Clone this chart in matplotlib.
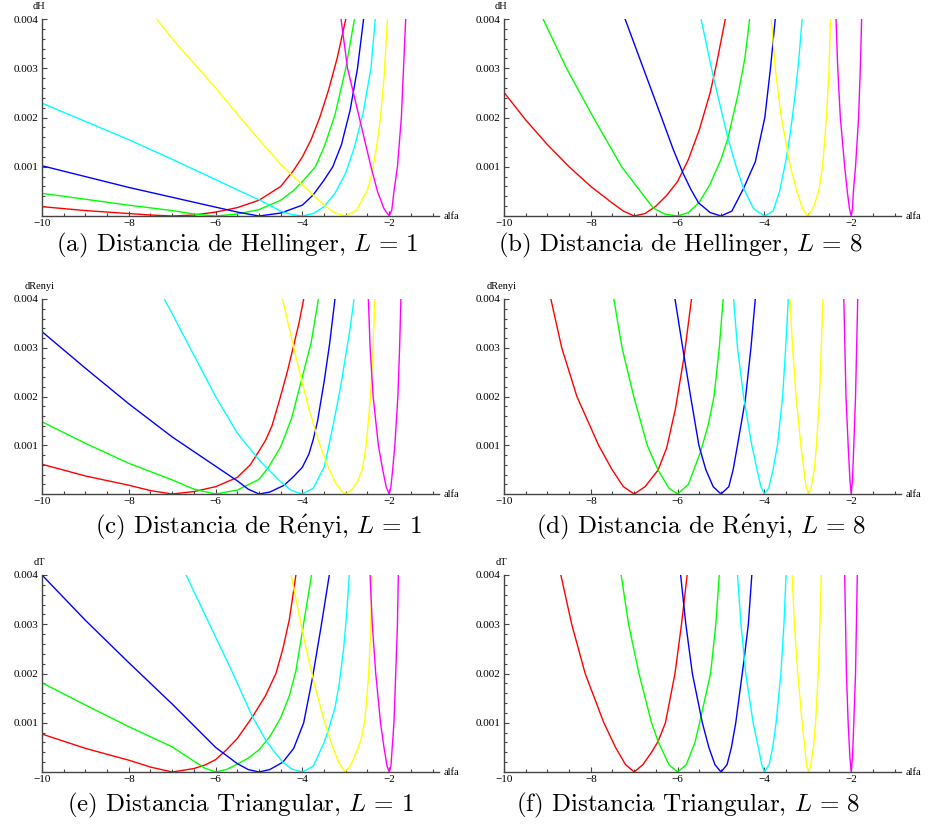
import numpy as np
import matplotlib
matplotlib.use("Agg")
import matplotlib.pyplot as plt
from matplotlib.ticker import FixedLocator, FuncFormatter

# ---------------- data (x = alfa, y in units of 0.001) ----------------
alphas = [-7, -6, -5, -4, -3, -2]
colors = ["#ff0000", "#00ff00", "#0000ff", "#00ffff", "#ffff00", "#ff00ff"]
y_unit = 1e-3

# (a) Hellinger, L = 1
hel1_red = [(-10, 0.19), (-9, 0.11), (-8, 0.05), (-7.5, 0.02), (-7, 0.0), (-6.5, 0.02), (-6, 0.08),
            (-5.5, 0.17), (-5, 0.32), (-4.5, 0.60), (-4.2, 0.93), (-4.0, 1.2), (-3.8, 1.55), (-3.6, 2.0),
            (-3.4, 2.55), (-3.2, 3.2), (-3.0, 4.0)]
hel1_green = [(-10, 0.46), (-9, 0.34), (-8, 0.22), (-7, 0.11), (-6.5, 0.04), (-6, 0.0), (-5.5, 0.04),
              (-5, 0.13), (-4.5, 0.32), (-4.2, 0.52), (-4.0, 0.70), (-3.7, 1.0), (-3.5, 1.4), (-3.25, 2.05),
              (-3.0, 3.0), (-2.8, 4.0)]
hel1_blue = [(-10, 1.02), (-9, 0.80), (-8, 0.58), (-7, 0.38), (-6, 0.18), (-5.5, 0.08), (-5, 0.0),
             (-4.5, 0.06), (-4, 0.22), (-3.75, 0.43), (-3.5, 0.73), (-3.3, 1.0), (-3.1, 1.45), (-2.9, 2.15),
             (-2.73, 3.0), (-2.59, 4.0)]
hel1_cyan = [(-10, 2.29), (-9, 1.92), (-8, 1.55), (-7, 1.15), (-6, 0.74), (-5.5, 0.53), (-5, 0.33),
             (-4.5, 0.10), (-4.25, 0.03), (-4, 0.0), (-3.75, 0.05), (-3.5, 0.19), (-3.25, 0.46), (-3.0, 0.88),
             (-2.8, 1.4), (-2.6, 2.1), (-2.42, 3.0), (-2.32, 4.0)]
hel1_yellow = [(-7.36, 4.0), (-7, 3.6), (-6.5, 3.1), (-6, 2.6), (-5.5, 2.07), (-5, 1.55), (-4.5, 1.05),
               (-4, 0.63), (-3.5, 0.22), (-3.25, 0.06), (-3, 0.0), (-2.75, 0.12), (-2.5, 0.53), (-2.4, 0.85),
               (-2.3, 1.35), (-2.2, 2.0), (-2.12, 2.8), (-2.04, 4.0)]
hel1_magenta = [(-3.11, 4.0), (-2.96, 3.0), (-2.69, 2.0), (-2.42, 1.0), (-2.27, 0.5), (-2.12, 0.15), (-2, 0.0),
                (-1.94, 0.12), (-1.89, 0.5), (-1.81, 1.0), (-1.72, 2.0), (-1.67, 3.0), (-1.62, 4.0)]

# (b) Hellinger, L = 8
hel8_red = [(-10, 2.51), (-9.5, 1.95), (-9, 1.45), (-8.5, 1.0), (-8, 0.6), (-7.5, 0.26), (-7.25, 0.1),
            (-7, 0.0), (-6.75, 0.05), (-6.5, 0.2), (-6.25, 0.42), (-6, 0.7), (-5.75, 1.15), (-5.5, 1.75),
            (-5.25, 2.5), (-5.1, 3.1), (-4.9, 4.0)]
hel8_green = [(-9.1, 4.0), (-8.56, 3.0), (-7.94, 2.0), (-7.29, 1.0), (-6.9, 0.55), (-6.56, 0.16), (-6.3, 0.04),
              (-6, 0.0), (-5.75, 0.07), (-5.5, 0.28), (-5.25, 0.65), (-5.0, 1.15), (-4.84, 1.58), (-4.6, 2.5),
              (-4.45, 3.2), (-4.34, 4.0)]
hel8_blue = [(-7.21, 4.0), (-6.79, 3.0), (-6.37, 2.0), (-6.1, 1.35), (-5.88, 0.88), (-5.7, 0.55), (-5.52, 0.27),
             (-5.25, 0.07), (-5, 0.0), (-4.75, 0.1), (-4.48, 0.56), (-4.21, 1.1), (-3.99, 2.0), (-3.86, 3.0),
             (-3.75, 4.0)]
hel8_cyan = [(-5.46, 4.0), (-5.17, 2.8), (-4.84, 1.58), (-4.65, 1.0), (-4.48, 0.56), (-4.25, 0.15), (-4, 0.0),
             (-3.8, 0.1), (-3.65, 0.5), (-3.5, 1.15), (-3.4, 1.7), (-3.3, 2.4), (-3.21, 3.15), (-3.13, 4.0)]
hel8_yellow = [(-3.84, 4.0), (-3.75, 3.0), (-3.61, 2.0), (-3.4, 1.0), (-3.25, 0.5), (-3.12, 0.15), (-3, 0.0),
               (-2.88, 0.15), (-2.75, 0.5), (-2.66, 1.0), (-2.57, 2.0), (-2.51, 3.0), (-2.48, 4.0)]
hel8_magenta = [(-2.35, 4.0), (-2.31, 3.0), (-2.25, 2.0), (-2.15, 1.0), (-2.09, 0.5), (-2.04, 0.15), (-2, 0.0),
                (-1.97, 0.15), (-1.95, 0.5), (-1.9, 1.0), (-1.83, 2.0), (-1.79, 3.0), (-1.76, 4.0)]

# (c) Renyi, L = 1
ren1_red = [(-10, 0.61), (-9, 0.37), (-8, 0.18), (-7.5, 0.07), (-7, 0.0), (-6.5, 0.05), (-6, 0.15),
            (-5.5, 0.34), (-5.2, 0.6), (-5.0, 0.88), (-4.85, 1.1), (-4.7, 1.4), (-4.52, 1.95), (-4.35, 2.5),
            (-4.2, 3.05), (-4.08, 3.5), (-3.97, 4.0)]
ren1_green = [(-10, 1.48), (-9, 1.04), (-8, 0.63), (-7, 0.29), (-6.5, 0.1), (-6, 0.0), (-5.5, 0.08),
              (-5, 0.3), (-4.78, 0.55), (-4.5, 0.97), (-4.25, 1.55), (-4.02, 2.34), (-3.8, 3.1), (-3.63, 4.0)]
ren1_blue = [(-10, 3.33), (-9, 2.58), (-8, 1.85), (-7, 1.17), (-6, 0.57), (-5.5, 0.27), (-5.25, 0.1),
             (-5, 0.0), (-4.75, 0.04), (-4.42, 0.18), (-4.2, 0.36), (-4.0, 0.55), (-3.85, 0.82), (-3.75, 1.12),
             (-3.65, 1.5), (-3.5, 2.3), (-3.37, 3.1), (-3.25, 4.0)]
ren1_cyan = [(-7.18, 4.0), (-6.59, 3.0), (-6.0, 2.0), (-5.5, 1.25), (-5.0, 0.7), (-4.78, 0.5), (-4.5, 0.25),
             (-4.25, 0.07), (-4, 0.0), (-3.75, 0.12), (-3.5, 0.55), (-3.4, 0.95), (-3.25, 1.6), (-3.12, 2.2),
             (-3.0, 2.85), (-2.9, 3.4), (-2.81, 4.0)]
ren1_yellow = [(-4.46, 4.0), (-4.25, 3.2), (-4.05, 2.45), (-3.85, 1.75), (-3.65, 1.15), (-3.45, 0.65),
               (-3.25, 0.25), (-3.1, 0.06), (-3.0, 0.0), (-2.85, 0.1), (-2.72, 0.28), (-2.62, 0.5), (-2.53, 1.0),
               (-2.43, 2.0), (-2.37, 3.0), (-2.33, 4.0)]
ren1_magenta = [(-2.48, 4.0), (-2.44, 3.0), (-2.37, 2.0), (-2.25, 1.0), (-2.15, 0.5), (-2.07, 0.15), (-2, 0.0),
                (-1.96, 0.15), (-1.92, 0.5), (-1.87, 1.0), (-1.8, 2.0), (-1.76, 3.0), (-1.73, 4.0)]

# (d) Renyi, L = 8
ren8_red = [(-8.92, 4.0), (-8.67, 3.0), (-8.32, 2.0), (-7.82, 1.0), (-7.51, 0.5), (-7.25, 0.15), (-7, 0.0),
            (-6.75, 0.15), (-6.45, 0.49), (-6.25, 0.95), (-6.05, 1.75), (-5.85, 2.82), (-5.68, 4.0)]
ren8_green = [(-7.47, 4.0), (-7.28, 3.0), (-7.01, 2.0), (-6.7, 1.0), (-6.45, 0.49), (-6.2, 0.12), (-6, 0.0),
              (-5.75, 0.2), (-5.47, 0.87), (-5.3, 1.4), (-5.16, 2.0), (-5.04, 3.0), (-4.95, 4.0)]
ren8_blue = [(-6.06, 4.0), (-5.85, 2.82), (-5.7, 2.0), (-5.51, 1.0), (-5.35, 0.5), (-5.18, 0.15), (-5, 0.0),
             (-4.82, 0.15), (-4.72, 0.5), (-4.62, 1.0), (-4.44, 1.93), (-4.31, 3.0), (-4.21, 4.0)]
ren8_cyan = [(-4.71, 4.0), (-4.62, 3.0), (-4.48, 2.0), (-4.29, 1.0), (-4.17, 0.5), (-4.08, 0.15), (-4, 0.0),
             (-3.9, 0.12), (-3.8, 0.5), (-3.7, 1.0), (-3.58, 2.0), (-3.51, 3.0), (-3.45, 4.0)]
ren8_yellow = [(-3.41, 4.0), (-3.35, 3.0), (-3.27, 2.0), (-3.16, 1.0), (-3.09, 0.5), (-3.04, 0.15), (-2.98, 0.0),
               (-2.92, 0.15), (-2.85, 0.5), (-2.8, 1.0), (-2.73, 2.0), (-2.69, 3.0), (-2.65, 4.0)]
ren8_magenta = [(-2.17, 4.0), (-2.12, 2.0), (-2.07, 1.0), (-2.03, 0.3), (-2, 0.0), (-1.97, 0.3), (-1.94, 1.0),
                (-1.9, 2.0), (-1.85, 4.0)]

# (e) Triangular, L = 1
tri1_red = [(-10, 0.77), (-9, 0.48), (-8, 0.24), (-7.5, 0.1), (-7, 0.0), (-6.5, 0.07), (-6.25, 0.14),
            (-6, 0.25), (-5.75, 0.45), (-5.5, 0.68), (-5.15, 1.12), (-4.85, 1.55), (-4.61, 2.0), (-4.45, 2.5),
            (-4.3, 3.1), (-4.15, 4.0)]
tri1_green = [(-10, 1.81), (-9, 1.36), (-8, 0.92), (-7, 0.51), (-6.5, 0.22), (-6.25, 0.08), (-6, 0.0),
              (-5.75, 0.05), (-5.5, 0.16), (-5.25, 0.28), (-5, 0.45), (-4.75, 0.72), (-4.5, 1.1), (-4.3, 1.55),
              (-4.15, 2.05), (-4.02, 2.75), (-3.9, 3.4), (-3.79, 4.0)]
tri1_blue = [(-10, 4.0), (-9, 3.08), (-8, 2.22), (-7, 1.38), (-6, 0.5), (-5.5, 0.17), (-5.25, 0.05), (-5, 0.0),
             (-4.75, 0.05), (-4.45, 0.2), (-4.2, 0.48), (-3.97, 1.0), (-3.77, 1.9), (-3.57, 2.95), (-3.38, 4.0)]
tri1_cyan = [(-6.68, 4.0), (-6.14, 3.0), (-5.6, 2.0), (-5.15, 1.12), (-4.84, 0.64), (-4.6, 0.36), (-4.45, 0.2),
             (-4.25, 0.06), (-4, 0.0), (-3.75, 0.12), (-3.5, 0.6), (-3.42, 0.8), (-3.25, 1.3), (-3.15, 1.8),
             (-3.05, 2.5), (-2.98, 3.2), (-2.92, 4.0)]
tri1_yellow = [(-4.26, 4.0), (-4.1, 3.3), (-3.9, 2.45), (-3.7, 1.7), (-3.5, 1.05), (-3.3, 0.5), (-3.15, 0.17),
               (-3.02, 0.0), (-2.9, 0.12), (-2.78, 0.35), (-2.65, 0.65), (-2.56, 1.05), (-2.48, 1.9),
               (-2.43, 2.8), (-2.4, 4.0)]
tri1_magenta = [(-2.44, 4.0), (-2.39, 3.0), (-2.31, 2.0), (-2.2, 1.0), (-2.12, 0.5), (-2.05, 0.12), (-2, 0.0),
                (-1.96, 0.12), (-1.93, 0.5), (-1.89, 1.0), (-1.85, 2.0), (-1.81, 3.0), (-1.79, 4.0)]

# (f) Triangular, L = 8
tri8_red = [(-8.69, 4.0), (-8.44, 3.0), (-8.13, 2.0), (-7.7, 1.0), (-7.43, 0.5), (-7.2, 0.15), (-7, 0.0),
            (-6.8, 0.15), (-6.6, 0.4), (-6.45, 0.62), (-6.28, 1.0), (-6.06, 2.0), (-5.91, 3.0), (-5.78, 4.0)]
tri8_green = [(-7.3, 4.0), (-7.13, 3.0), (-6.89, 2.0), (-6.6, 1.0), (-6.45, 0.62), (-6.2, 0.15), (-6, 0.0),
              (-5.8, 0.15), (-5.6, 0.6), (-5.47, 1.09), (-5.24, 2.0), (-5.12, 3.0), (-5.04, 4.0)]
tri8_blue = [(-5.93, 4.0), (-5.81, 3.0), (-5.66, 2.0), (-5.43, 1.0), (-5.28, 0.5), (-5.14, 0.15), (-5, 0.0),
             (-4.86, 0.15), (-4.76, 0.5), (-4.66, 1.0), (-4.47, 2.27), (-4.37, 3.0), (-4.29, 4.0)]
tri8_cyan = [(-4.62, 4.0), (-4.54, 3.0), (-4.43, 2.0), (-4.26, 1.0), (-4.14, 0.5), (-4.06, 0.15), (-4, 0.0),
             (-3.89, 0.15), (-3.81, 0.5), (-3.73, 1.0), (-3.62, 2.0), (-3.55, 3.0), (-3.5, 4.0)]
tri8_yellow = [(-3.36, 4.0), (-3.31, 3.0), (-3.23, 2.0), (-3.13, 1.0), (-3.07, 0.5), (-3.03, 0.15), (-2.98, 0.0),
               (-2.93, 0.15), (-2.87, 0.5), (-2.82, 1.0), (-2.76, 2.0), (-2.72, 3.0), (-2.69, 4.0)]
tri8_magenta = [(-2.15, 4.0), (-2.11, 2.0), (-2.07, 1.0), (-2.03, 0.3), (-2, 0.0), (-1.97, 0.3), (-1.94, 1.0),
                (-1.9, 2.0), (-1.86, 4.0)]

panel_curves = [
    [hel1_red, hel1_green, hel1_blue, hel1_cyan, hel1_yellow, hel1_magenta],
    [hel8_red, hel8_green, hel8_blue, hel8_cyan, hel8_yellow, hel8_magenta],
    [ren1_red, ren1_green, ren1_blue, ren1_cyan, ren1_yellow, ren1_magenta],
    [ren8_red, ren8_green, ren8_blue, ren8_cyan, ren8_yellow, ren8_magenta],
    [tri1_red, tri1_green, tri1_blue, tri1_cyan, tri1_yellow, tri1_magenta],
    [tri8_red, tri8_green, tri8_blue, tri8_cyan, tri8_yellow, tri8_magenta],
]
ylabels = ["dH", "dH", "dRenyi", "dRenyi", "dT", "dT"]
captions = [
    r"(a) Distancia de Hellinger, $L\,=\,1$",
    r"(b) Distancia de Hellinger, $L\,=\,8$",
    r"(c) Distancia de R$\acute{\mathrm{e}}$nyi, $L\,=\,1$",
    r"(d) Distancia de R$\acute{\mathrm{e}}$nyi, $L\,=\,8$",
    r"(e) Distancia Triangular, $L\,=\,1$",
    r"(f) Distancia Triangular, $L\,=\,8$",
]
xmajor = [-10, -8, -6, -4, -2]
ymajor = [0.001, 0.002, 0.003, 0.004]

# ---------------- figure ----------------
plt.rcParams["mathtext.fontset"] = "cm"
W, H = 929, 826
fig = plt.figure(figsize=(W / 100, H / 100), dpi=100)

col_left = [42, 504]                  # pixel x of alfa = -10
row_pix = [(19, 216), (299, 494), (575, 772)]   # pixel y of 0.004 and 0
unit_px = 43.4
xlim = (-10, -0.85)
axis_col = "#444444"
tick_family = ["Liberation Serif", "DejaVu Serif"]
tick_size = 8

for i, curves in enumerate(panel_curves):
    r, c = divmod(i, 2)
    top, bot = row_pix[r]
    left = col_left[c]
    width = (xlim[1] - xlim[0]) * unit_px
    ax = fig.add_axes([left / W, 1 - bot / H, width / W, (bot - top) / H])
    for pts, col in zip(curves, colors):
        xs = [p[0] for p in pts]
        ys = [p[1] * y_unit for p in pts]
        ax.plot(xs, ys, color=col, lw=1.0, solid_joinstyle="round")
    ax.set_xlim(*xlim)
    ax.set_ylim(0, 0.004)
    for s in ["top", "right"]:
        ax.spines[s].set_visible(False)
    for s in ["left", "bottom"]:
        ax.spines[s].set_color(axis_col)
        ax.spines[s].set_linewidth(1.0)
    ax.xaxis.set_major_locator(FixedLocator(xmajor))
    ax.xaxis.set_minor_locator(FixedLocator(np.arange(-10, -0.99, 0.5)))
    ax.yaxis.set_major_locator(FixedLocator(ymajor))
    ax.yaxis.set_minor_locator(FixedLocator(np.arange(1, 21) * 0.0002))
    ax.xaxis.set_major_formatter(FuncFormatter(lambda v, p: "\u2212%d" % abs(v) if v < 0 else "%d" % v))
    ax.yaxis.set_major_formatter(FuncFormatter(lambda v, p: "%.3f" % v))
    ax.tick_params(which="both", direction="in", color=axis_col, width=0.8)
    ax.tick_params(which="major", length=3.5, pad=2.5)
    ax.tick_params(which="minor", length=2.0)
    for lab in ax.get_xticklabels() + ax.get_yticklabels():
        lab.set_fontfamily(tick_family)
        lab.set_fontsize(tick_size)
    ax.patch.set_visible(False)
    # axis labels (Mathematica style)
    ax.annotate(ylabels[i], xy=(0, 1), xycoords="axes fraction", xytext=(-2, 9),
                textcoords="offset points", ha="center", va="center",
                fontfamily=tick_family, fontsize=7.5)
    ax.annotate("alfa", xy=(1, 0), xycoords="axes fraction", xytext=(3, -0.5),
                textcoords="offset points", ha="left", va="center",
                fontfamily=tick_family, fontsize=7.5)

cap_x = [237, 258, 240, 680, 701, 688]
cap_x = [cap_x[0], cap_x[3], cap_x[1], cap_x[4], cap_x[2], cap_x[5]]
cap_y = [245, 527, 805]
for i, txt in enumerate(captions):
    r, c = divmod(i, 2)
    fig.text(cap_x[i] / W, 1 - cap_y[r] / H, txt, ha="center", va="center",
             fontsize=18, family="cmr10")

fig.savefig("out.png", dpi=100)
